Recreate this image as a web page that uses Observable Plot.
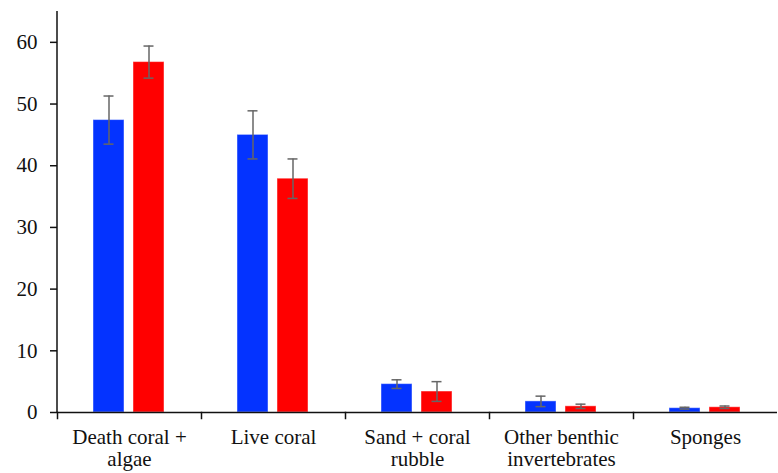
<!DOCTYPE html>
<html>
<head>
<meta charset="utf-8">
<script src="https://cdn.jsdelivr.net/npm/d3@7"></script>
<script src="https://cdn.jsdelivr.net/npm/@observablehq/plot@0.6"></script>
<style>
  html, body { margin: 0; padding: 0; background: #fff; }
  svg { display: block; }
</style>
</head>
<body>
<div id="chart"></div>
<script>
const categories = ["Death coral + algae", "Live coral", "Sand + coral rubble", "Other benthic invertebrates", "Sponges"];
const tickLabels = ["Death coral +\nalgae", "Live coral", "Sand + coral\nrubble", "Other benthic\ninvertebrates", "Sponges"];
const seriesNames = ["Group 1", "Group 2"];
const seriesColors = ["#0433ff", "#ff0000"];
const blueMean = [47.4, 45.0, 4.6, 1.8, 0.7];
const blueErr  = [3.9, 3.9, 0.7, 0.85, 0.15];
const redMean  = [56.8, 37.9, 3.4, 1.0, 0.85];
const redErr   = [2.6, 3.2, 1.6, 0.35, 0.2];
const yTicks = [0, 10, 20, 30, 40, 50, 60];
const yDomain = [0, 65];

const data = [];
categories.forEach((c, i) => {
  data.push({category: c, series: seriesNames[0], mean: blueMean[i], err: blueErr[i]});
  data.push({category: c, series: seriesNames[1], mean: redMean[i], err: redErr[i]});
});

const font = "'Liberation Serif', 'Times New Roman', serif";

const chart = Plot.plot({
  width: 778,
  height: 473,
  marginLeft: 55,
  marginRight: 0,
  marginTop: 11,
  marginBottom: 61,
  style: {fontFamily: font, fontSize: "21px", color: "#111", background: "#fff"},
  fx: {domain: categories, padding: 0, label: null},
  x: {domain: seriesNames, paddingInner: 0.22, paddingOuter: 0.88, axis: null},
  y: {domain: yDomain, label: null},
  color: {domain: seriesNames, range: seriesColors},
  marks: [
    Plot.barY(data, {fx: "category", x: "series", y: "mean", fill: "series",
      stroke: "white", strokeOpacity: 0.45, strokeWidth: 1}),
    Plot.ruleX(data, {fx: "category", x: "series", y1: d => d.mean - d.err, y2: d => d.mean + d.err,
      stroke: "#666", strokeWidth: 1.5}),
    Plot.tickY(data, {fx: "category", x: "series", y: d => d.mean - d.err,
      stroke: "#666", strokeWidth: 1.5, insetLeft: 10.5, insetRight: 10.5}),
    Plot.tickY(data, {fx: "category", x: "series", y: d => d.mean + d.err,
      stroke: "#666", strokeWidth: 1.5, insetLeft: 10.5, insetRight: 10.5}),
    Plot.ruleY([0], {stroke: "#111", strokeWidth: 1.5}),
    Plot.frame({anchor: "left", stroke: "#111", strokeWidth: 1.5, insetTop: 401, insetBottom: -6}),
    Plot.axisY({ticks: yTicks, tickSize: 7, tickPadding: 13, stroke: "#111",
      strokeWidth: 1.5, fill: "#111", fontSize: 21, label: null}),
    Plot.axisFx({anchor: "bottom", tickSize: 0, tickPadding: 15, label: null,
      tickFormat: d => tickLabels[categories.indexOf(d)], lineHeight: 1.08, fill: "#111", fontSize: 21})
  ]
});

// y-axis line along the left edge of the first facet, positioned with Plot's own scales
const fx = chart.scale("fx");
const y = chart.scale("y");
d3.select(chart).append("line")
  .attr("x1", fx.apply(categories[0]))
  .attr("x2", fx.apply(categories[0]))
  .attr("y1", y.apply(yDomain[0]))
  .attr("y2", y.apply(yDomain[1]))
  .attr("stroke", "#111")
  .attr("stroke-width", 1.5);

document.getElementById("chart").appendChild(chart);
</script>
</body>
</html>
